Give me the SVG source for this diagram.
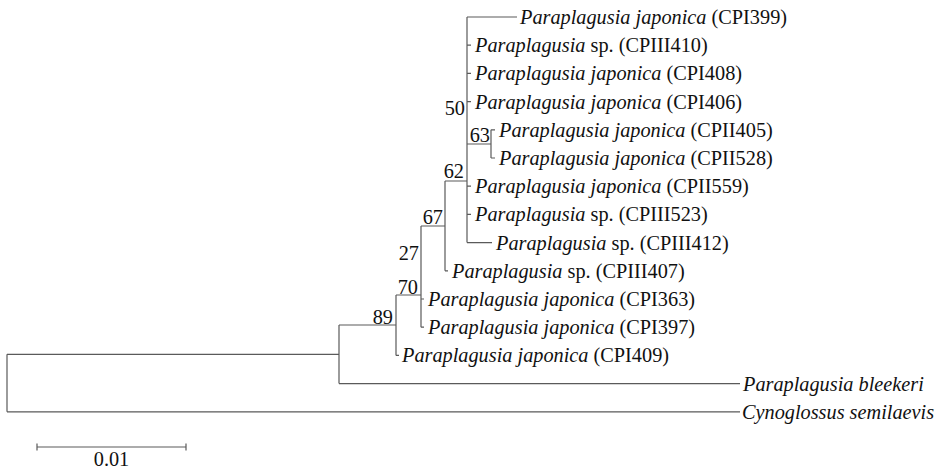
<svg xmlns="http://www.w3.org/2000/svg" width="942" height="471" viewBox="0 0 942 471" font-family="'Liberation Serif', 'Times New Roman', 'DejaVu Serif', serif" font-size="20.3">
<style>
.e{stroke:#5a5a5a;stroke-width:1.2;fill:none}
text{font-family:'Liberation Serif','Times New Roman','DejaVu Serif',serif;fill:#111}
.i{font-style:italic}
.s{text-anchor:end}
</style>
<rect width="942" height="471" fill="#fff"/>
<g id="connectors">
<path class="e" d="M7,354.3V411.8M7,354.3H339M7,411.8H740"/>
<path class="e" d="M339,325V383.6M339,325H396M339,383.6H740"/>
<path class="e" d="M396,295V355.4M396,295H421M396,355.4H399"/>
<path class="e" d="M421,226V327.2M421,299H424M421,327.2H424"/>
<path class="e" d="M421,226H445M445,181V270.8M445,270.8H448M445,181H467"/>
<path class="e" d="M467,17V242.6M467,17H517M467,45.2H471M467,73.4H471M467,101.6H471M467,186.2H471M467,214.4H471M467,242.6H492"/>
<path class="e" d="M467,144H491M491,129.8V158M491,129.8H495M491,158H495"/>
<path class="e" d="M37,447H186M37,443.5V450.5M186,443.5V450.5"/>
</g>
<g id="support">
<text class="s" x="465" y="115">50</text>
<text class="s" x="490" y="142">63</text>
<text class="s" x="464" y="178">62</text>
<text class="s" x="443" y="224">67</text>
<text class="s" x="419" y="260">27</text>
<text class="s" x="418" y="294">70</text>
<text class="s" x="393" y="324">89</text>
</g>
<g id="CPI399"><text x="520" y="24"><tspan class="i">Paraplagusia japonica</tspan> (CPI399)</text></g>
<g id="CPIII410"><text x="475" y="52.2"><tspan class="i">Paraplagusia</tspan> sp. (CPIII410)</text></g>
<g id="CPI408"><text x="475" y="80.4"><tspan class="i">Paraplagusia japonica</tspan> (CPI408)</text></g>
<g id="CPI406"><text x="475" y="108.6"><tspan class="i">Paraplagusia japonica</tspan> (CPI406)</text></g>
<g id="CPII405"><text x="499" y="136.8"><tspan class="i">Paraplagusia japonica</tspan> (CPII405)</text></g>
<g id="CPII528"><text x="499" y="165"><tspan class="i">Paraplagusia japonica</tspan> (CPII528)</text></g>
<g id="CPII559"><text x="475" y="193.2"><tspan class="i">Paraplagusia japonica</tspan> (CPII559)</text></g>
<g id="CPIII523"><text x="475" y="221.4"><tspan class="i">Paraplagusia</tspan> sp. (CPIII523)</text></g>
<g id="CPIII412"><text x="496" y="249.6"><tspan class="i">Paraplagusia</tspan> sp. (CPIII412)</text></g>
<g id="CPIII407"><text x="452" y="277.8"><tspan class="i">Paraplagusia</tspan> sp. (CPIII407)</text></g>
<g id="CPI363"><text x="428" y="306"><tspan class="i">Paraplagusia japonica</tspan> (CPI363)</text></g>
<g id="CPI397"><text x="428" y="334.2"><tspan class="i">Paraplagusia japonica</tspan> (CPI397)</text></g>
<g id="CPI409"><text x="402" y="362.4"><tspan class="i">Paraplagusia japonica</tspan> (CPI409)</text></g>
<g id="bleekeri"><text class="i" x="743" y="390.6">Paraplagusia bleekeri</text></g>
<g id="semilaevis"><text class="i" x="742" y="418.8">Cynoglossus semilaevis</text></g>
<g id="scale"><text x="111.5" y="466" text-anchor="middle">0.01</text></g>
</svg>
